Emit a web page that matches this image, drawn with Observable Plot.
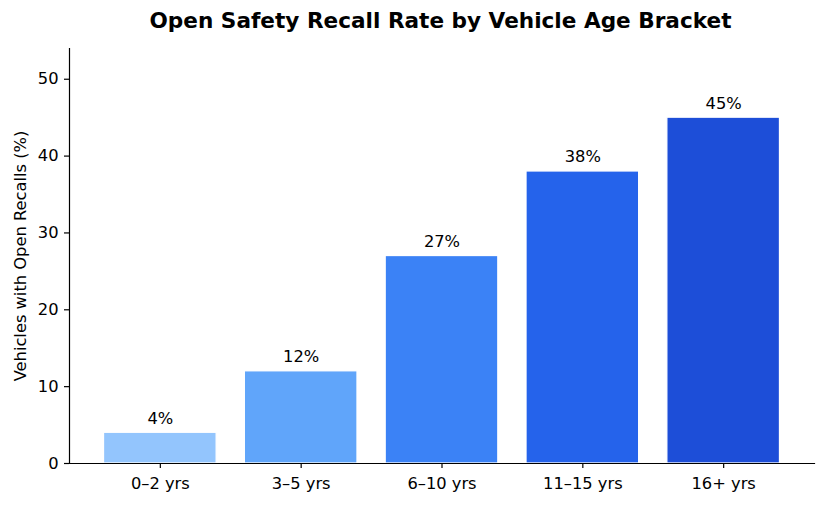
<!DOCTYPE html>
<html>
<head>
<meta charset="utf-8">
<script src="https://cdn.jsdelivr.net/npm/d3@7"></script>
<script src="https://cdn.jsdelivr.net/npm/@observablehq/plot@0.6"></script>
<style>
  html, body { margin: 0; padding: 0; background: #fff; }
  #wrap { position: relative; width: 825px; height: 505px; }
  #title { position: absolute; top: 10px; left: 69px; width: 743px; text-align: center;
    font-family: "DejaVu Sans", sans-serif; font-weight: bold; font-size: 21.6px; line-height: 22px; color: #000; }
</style>
</head>
<body>
<div id="wrap">
  <div id="title">Open Safety Recall Rate by Vehicle Age Bracket</div>
  <div id="chart"></div>
</div>
<script>
const categories = ["0–2 yrs", "3–5 yrs", "6–10 yrs", "11–15 yrs", "16+ yrs"];
const values = [4, 12, 27, 38, 45];
const colors = ["#93c5fd", "#60a5fa", "#3b82f6", "#2563eb", "#1d4ed8"];
const yTicks = [0, 10, 20, 30, 40, 50];
const yLabel = "Vehicles with Open Recalls (%)";

const data = categories.map((c, i) => ({category: c, value: values[i], color: colors[i]}));

const FS = 16.3;
const chart = Plot.plot({
  width: 825,
  height: 505,
  marginTop: 48,
  marginBottom: 42,
  marginLeft: 69,
  marginRight: 11,
  style: {fontFamily: "DejaVu Sans, sans-serif", fontSize: FS + "px", color: "#000", background: "#fff"},
  x: {domain: categories, paddingInner: 0.2, paddingOuter: 0.245, align: 0.5, round: false},
  y: {domain: [0, 54]},
  marks: [
    Plot.barY(data, {x: "category", y: "value", fill: "color", stroke: "white", strokeWidth: 1.3}),
    Plot.text(data, {x: "category", y: "value", text: d => `${d.value}%`, lineAnchor: "bottom", dy: -9, fontSize: FS, fill: "#000"}),
    Plot.axisY({ticks: yTicks, tickSize: 5, tickPadding: 6, label: null, fontSize: FS, stroke: "#000", strokeWidth: 1.2, strokeOpacity: 1}),
    Plot.axisX({tickSize: 5, tickPadding: 9, label: null, fontSize: FS, stroke: "#000", strokeWidth: 1.2, strokeOpacity: 1}),
    Plot.frame({anchor: "left", stroke: "#000", strokeWidth: 1.2}),
    Plot.frame({anchor: "bottom", stroke: "#000", strokeWidth: 1.2}),
    Plot.text([yLabel], {frameAnchor: "left", rotate: -90, dx: -49, textAnchor: "middle", lineAnchor: "middle", fontSize: FS, fill: "#000"})
  ]
});
document.getElementById("chart").appendChild(chart);
</script>
</body>
</html>
